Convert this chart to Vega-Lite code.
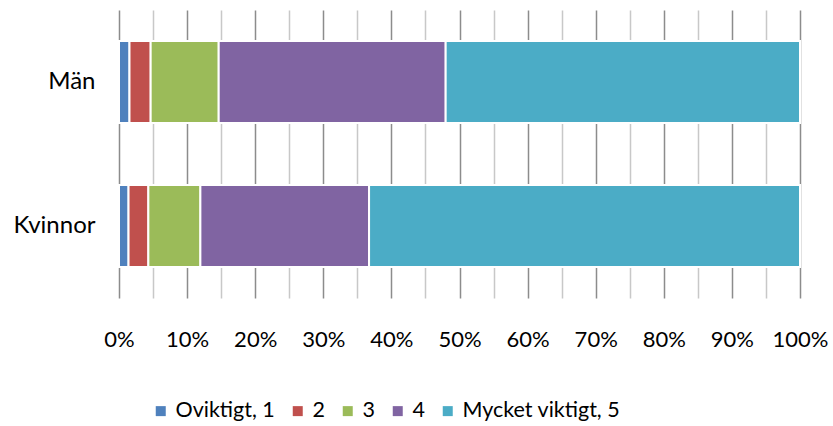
{
  "$schema": "https://vega.github.io/schema/vega-lite/v6.json",
  "width": 681,
  "height": 288,
  "autosize": {"type": "none"},
  "padding": {"left": 119, "top": 10, "right": 33, "bottom": 128},
  "background": "white",
  "config": {
    "view": {"stroke": null},
    "font": "Lato",
    "axis": {"labelFont": "Lato", "labelColor": "#000000"},
    "legend": {"labelFont": "Lato", "labelColor": "#000000"}
  },
  "data": {
    "values": [
      {"grupp": "Män", "svar": "Oviktigt, 1", "k": 1, "andel": 1.54},
      {"grupp": "Män", "svar": "2", "k": 2, "andel": 3.11},
      {"grupp": "Män", "svar": "3", "k": 3, "andel": 9.99},
      {"grupp": "Män", "svar": "4", "k": 4, "andel": 33.33},
      {"grupp": "Män", "svar": "Mycket viktigt, 5", "k": 5, "andel": 52.03},
      {"grupp": "Kvinnor", "svar": "Oviktigt, 1", "k": 1, "andel": 1.40},
      {"grupp": "Kvinnor", "svar": "2", "k": 2, "andel": 2.91},
      {"grupp": "Kvinnor", "svar": "3", "k": 3, "andel": 7.64},
      {"grupp": "Kvinnor", "svar": "4", "k": 4, "andel": 24.77},
      {"grupp": "Kvinnor", "svar": "Mycket viktigt, 5", "k": 5, "andel": 63.28}
    ]
  },
  "mark": {"type": "bar", "stroke": "white", "strokeWidth": 2},
  "encoding": {
    "y": {
      "field": "grupp",
      "type": "nominal",
      "sort": ["Män", "Kvinnor"],
      "scale": {"paddingInner": 0.43, "paddingOuter": 0.215},
      "axis": {
        "title": null,
        "ticks": false,
        "domain": false,
        "labelFontSize": 24,
        "labelPadding": 24
      }
    },
    "x": {
      "field": "andel",
      "type": "quantitative",
      "stack": "zero",
      "scale": {"domain": [0, 100], "nice": false},
      "axis": {
        "title": null,
        "values": [0, 5, 10, 15, 20, 25, 30, 35, 40, 45, 50, 55, 60, 65, 70, 75, 80, 85, 90, 95, 100],
        "labelExpr": "datum.value % 10 == 0 ? datum.value + '%' : ''",
        "labelOverlap": false,
        "labelFlush": false,
        "ticks": false,
        "domain": false,
        "labelFontSize": 22,
        "labelPadding": 31,
        "grid": true,
        "gridWidth": 1.5,
        "gridColor": {"condition": {"test": "datum.value % 10 == 0", "value": "#8c8c8c"}, "value": "#c8c8c8"}
      }
    },
    "color": {
      "field": "svar",
      "type": "nominal",
      "sort": ["Oviktigt, 1", "2", "3", "4", "Mycket viktigt, 5"],
      "scale": {
        "domain": ["Oviktigt, 1", "2", "3", "4", "Mycket viktigt, 5"],
        "range": ["#4F81BD", "#C0504D", "#9BBB59", "#8064A2", "#4BACC6"]
      },
      "legend": {
        "title": null,
        "orient": "none",
        "direction": "horizontal",
        "legendX": 31,
        "legendY": 390,
        "symbolType": "square",
        "symbolSize": 100,
        "symbolStrokeWidth": 0,
        "labelFontSize": 21.5,
        "labelOffset": 4,
        "columnPadding": 12
      }
    },
    "order": {"field": "k", "type": "quantitative"}
  }
}
